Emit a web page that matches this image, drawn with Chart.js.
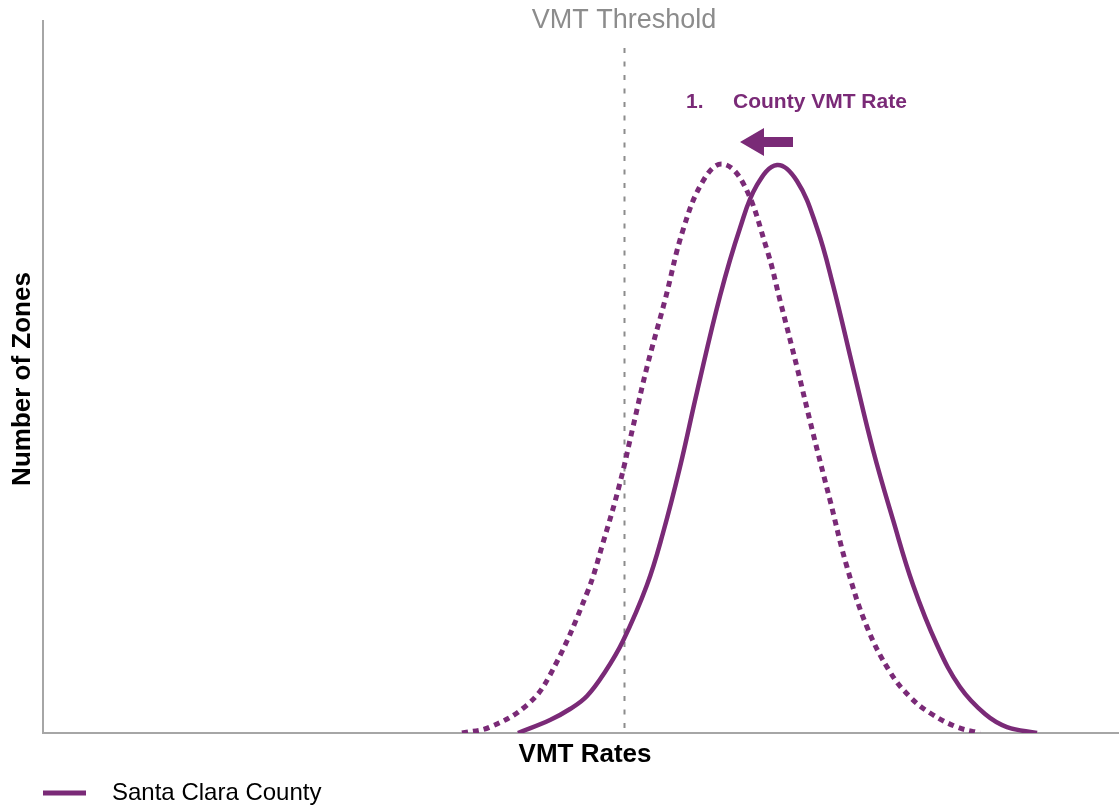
<!DOCTYPE html>
<html>
<head>
<meta charset="utf-8">
<script src="https://cdn.jsdelivr.net/npm/chart.js@4"></script>
<style>
  html, body { margin: 0; padding: 0; background: #fff; }
  #wrap { width: 1119px; height: 806px; position: relative; }
</style>
</head>
<body>
<div id="wrap"><canvas id="c" width="1119" height="806"></canvas></div>
<script>
// ---- Data ----
const seriesNames = ["Santa Clara County", "Santa Clara County (shifted)"];
const currentX = [44.14, 47.12, 48.98, 50.56, 52.23, 53.90, 56.13, 57.62, 59.20, 60.78, 62.92, 64.78, 66.36, 68.22, 70.07, 71.93, 73.42, 75.28, 77.14, 79.00, 80.86, 83.09, 85.22, 87.55, 89.59, 92.38];
const currentY = [0, 1.83, 3.37, 5.20, 8.57, 12.92, 20.79, 28.09, 37.36, 47.89, 61.38, 70.93, 76.97, 79.78, 77.53, 70.93, 62.92, 51.26, 39.75, 29.92, 20.79, 12.36, 6.46, 2.67, 0.84, 0];
const shiftedX = [38.94, 41.54, 44.98, 47.12, 50.56, 52.04, 53.62, 54.83, 56.13, 57.81, 59.48, 61.34, 63.10, 65.06, 67.29, 68.49, 70.07, 71.56, 73.14, 74.72, 76.58, 78.72, 80.58, 82.44, 84.94, 87.08];
const shiftedY = [0, 0.84, 3.93, 8.15, 19.66, 26.69, 35.11, 42.98, 51.40, 60.81, 70.65, 77.53, 79.92, 77.25, 67.84, 60.81, 51.40, 42.13, 32.72, 23.31, 14.89, 8.57, 5.06, 2.81, 0.84, 0];
const thresholdX = [54.0];
const thresholdLabel = "VMT Threshold";
const annotationNumber = "1.";
const annotationText = "County VMT Rate";
const xTitle = "VMT Rates";
const yTitle = "Number of Zones";

const PURPLE = "#7a2a77";

function pts(xs, ys) { return xs.map((x, i) => ({ x: x, y: ys[i] })); }

const decor = {
  id: 'decor',
  beforeDatasetsDraw(chart) {
    const { ctx, chartArea, scales } = chart;
    const xs = scales.x;
    ctx.save();
    ctx.strokeStyle = "#8c8c8c";
    ctx.lineWidth = 2;
    ctx.setLineDash([5, 8.5]);
    const tx = Math.round(xs.getPixelForValue(thresholdX[0])) + 0.5;
    ctx.beginPath();
    ctx.moveTo(tx, 48);
    ctx.lineTo(tx, chartArea.bottom);
    ctx.stroke();
    ctx.restore();
  },
  afterDraw(chart) {
    const { ctx, chartArea, scales } = chart;
    const xs = scales.x;
    ctx.save();
    const tx = xs.getPixelForValue(thresholdX[0]);
    ctx.fillStyle = "#8c8c8c";
    ctx.font = '27px "Liberation Sans", Arial, sans-serif';
    ctx.textAlign = 'center';
    ctx.textBaseline = 'middle';
    ctx.fillText(thresholdLabel, tx, 21);

    ctx.fillStyle = "#000";
    ctx.font = 'bold 26px "Liberation Sans", Arial, sans-serif';
    ctx.fillText(xTitle, (chartArea.left + chartArea.right) / 2 + 4, 755);
    ctx.save();
    ctx.translate(23, (chartArea.top + chartArea.bottom) / 2 + 2);
    ctx.rotate(-Math.PI / 2);
    ctx.fillText(yTitle, 0, 0);
    ctx.restore();

    ctx.fillStyle = PURPLE;
    ctx.font = 'bold 21px "Liberation Sans", Arial, sans-serif';
    ctx.textAlign = 'left';
    ctx.fillText(annotationNumber, 686, 102);
    ctx.fillText(annotationText, 733, 102);

    ctx.beginPath();
    ctx.moveTo(740, 142);
    ctx.lineTo(764, 128);
    ctx.lineTo(764, 137);
    ctx.lineTo(793, 137);
    ctx.lineTo(793, 147);
    ctx.lineTo(764, 147);
    ctx.lineTo(764, 156);
    ctx.closePath();
    ctx.fill();

    ctx.strokeStyle = PURPLE;
    ctx.lineWidth = 5;
    ctx.beginPath();
    ctx.moveTo(43, 793);
    ctx.lineTo(86, 793);
    ctx.stroke();
    ctx.fillStyle = "#000";
    ctx.font = '24px "Liberation Sans", Arial, sans-serif';
    ctx.textBaseline = 'middle';
    ctx.fillText(seriesNames[0], 112, 793);
    ctx.restore();
  }
};

new Chart(document.getElementById('c'), {
  type: 'line',
  data: {
    datasets: [
      {
        label: seriesNames[0],
        data: pts(currentX, currentY),
        borderColor: PURPLE,
        borderWidth: 4.5,
        pointRadius: 0,
        fill: false,
        tension: 0.4
      },
      {
        label: seriesNames[1],
        data: pts(shiftedX, shiftedY),
        borderColor: PURPLE,
        borderWidth: 5,
        borderDash: [6, 5],
        borderCapStyle: 'butt',
        pointRadius: 0,
        fill: false,
        tension: 0.4
      }
    ]
  },
  options: {
    responsive: false,
    animation: false,
    devicePixelRatio: 1,
    layout: { padding: { left: 43, right: 0, top: 21, bottom: 73 } },
    plugins: { legend: { display: false }, tooltip: { enabled: false }, title: { display: false } },
    scales: {
      x: {
        type: 'linear', min: 0, max: 100,
        ticks: { display: false },
        grid: { display: false, drawTicks: false },
        border: { display: true, color: "#a6a6a6", width: 2 },
        title: { display: false }
      },
      y: {
        type: 'linear', min: 0, max: 100,
        ticks: { display: false },
        grid: { display: false, drawTicks: false },
        border: { display: true, color: "#a6a6a6", width: 2 },
        title: { display: false }
      }
    }
  },
  plugins: [decor]
});
</script>
</body>
</html>
